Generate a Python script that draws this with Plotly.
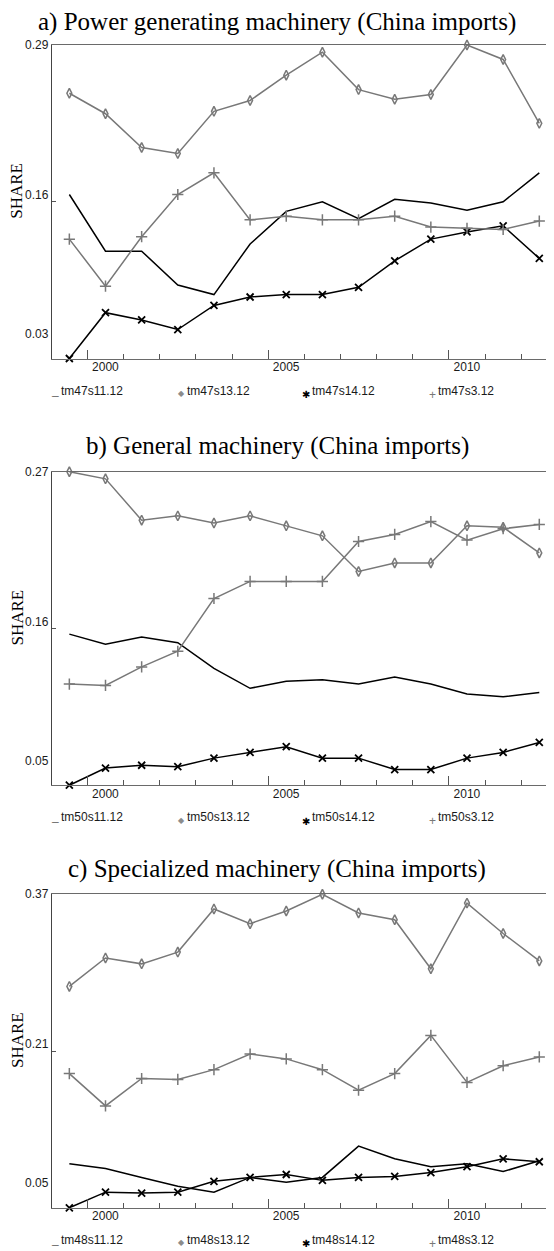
import plotly.graph_objects as go
from plotly.subplots import make_subplots

years = list(range(1999, 2013))

# a) Power generating machinery
tm47s11_12 = [0.166, 0.119, 0.119, 0.091, 0.083, 0.125, 0.152, 0.160, 0.146, 0.162, 0.159, 0.153, 0.160, 0.184]
tm47s13_12 = [0.250, 0.233, 0.205, 0.200, 0.235, 0.244, 0.265, 0.284, 0.253, 0.245, 0.249, 0.290, 0.278, 0.225]
tm47s14_12 = [0.030, 0.068, 0.062, 0.054, 0.074, 0.081, 0.083, 0.083, 0.089, 0.111, 0.129, 0.135, 0.140, 0.113]
tm47s3_12 = [0.129, 0.090, 0.131, 0.166, 0.184, 0.145, 0.148, 0.145, 0.145, 0.148, 0.139, 0.138, 0.137, 0.144]

# b) General machinery
tm50s11_12 = [0.156, 0.149, 0.154, 0.150, 0.132, 0.118, 0.123, 0.124, 0.121, 0.126, 0.121, 0.114, 0.112, 0.115]
tm50s13_12 = [0.270, 0.265, 0.236, 0.239, 0.234, 0.239, 0.232, 0.225, 0.200, 0.206, 0.206, 0.232, 0.231, 0.213]
tm50s14_12 = [0.050, 0.062, 0.064, 0.063, 0.069, 0.073, 0.077, 0.069, 0.069, 0.061, 0.061, 0.069, 0.073, 0.080]
tm50s3_12 = [0.121, 0.120, 0.133, 0.144, 0.181, 0.193, 0.193, 0.193, 0.221, 0.226, 0.235, 0.222, 0.230, 0.233]

# c) Specialized machinery
tm48s11_12 = [0.095, 0.090, 0.081, 0.072, 0.066, 0.081, 0.076, 0.081, 0.113, 0.100, 0.092, 0.095, 0.087, 0.098]
tm48s13_12 = [0.276, 0.305, 0.299, 0.311, 0.355, 0.340, 0.353, 0.370, 0.351, 0.344, 0.294, 0.361, 0.330, 0.302]
tm48s14_12 = [0.050, 0.066, 0.065, 0.066, 0.077, 0.081, 0.084, 0.078, 0.081, 0.082, 0.086, 0.092, 0.100, 0.097]
tm48s3_12 = [0.187, 0.154, 0.182, 0.181, 0.191, 0.207, 0.202, 0.191, 0.170, 0.187, 0.226, 0.178, 0.195, 0.204]

titles = [
    "a) Power generating machinery (China imports)",
    "b) General machinery (China imports)",
    "c) Specialized machinery (China imports)",
]
share_ticks = [[0.03, 0.16, 0.29], [0.05, 0.16, 0.27], [0.05, 0.21, 0.37]]
year_labels = [2000, 2005, 2010]

panels = [
    (["tm47s11.12", "tm47s13.12", "tm47s14.12", "tm47s3.12"], [tm47s11_12, tm47s13_12, tm47s14_12, tm47s3_12]),
    (["tm50s11.12", "tm50s13.12", "tm50s14.12", "tm50s3.12"], [tm50s11_12, tm50s13_12, tm50s14_12, tm50s3_12]),
    (["tm48s11.12", "tm48s13.12", "tm48s14.12", "tm48s3.12"], [tm48s11_12, tm48s13_12, tm48s14_12, tm48s3_12]),
]

# the page body has an 8px margin, so the figure is drawn 8px in from the
# top-left corner of the window; positions below are window pixels
WIN_W, WIN_H = 554, 1251
BODY = 8
W, H = WIN_W - BODY, WIN_H - BODY
GREY = "#787878"
plot_left = 52
panel_top = [45, 471.7, 894.3]
panel_h = 313.5
px_per_year = 36.15


def fx(px):
    return (px - BODY) / W


def fy(py):
    return 1 - (py - BODY) / H


# one style per series slot (s11, s13, s14, s3)
styles = [
    dict(mode="lines", line=dict(color="black", width=1.5)),
    dict(mode="lines+markers", line=dict(color=GREY, width=1.5),
         marker=dict(symbol="diamond-tall-open", size=7, color=GREY, line=dict(width=1.5))),
    dict(mode="lines+markers", line=dict(color="black", width=1.5),
         marker=dict(symbol="x-thin", size=7, color="black", line=dict(width=1.8, color="black"))),
    dict(mode="lines+markers", line=dict(color=GREY, width=1.5),
         marker=dict(symbol="cross-thin", size=8, color=GREY, line=dict(width=1.5, color=GREY))),
]
# legend glyph, its size, colour and downward shift (px)
legend_syms = [
    ("<b>_</b>", 12, "black", 0),
    ("◆", 8, "#8c8c8c", -3),
    ("✱", 10, "black", -4),
    ("+", 12, GREY, -4),
]
legend_x = [60, 186, 311, 437]

fig = make_subplots(rows=3, cols=1)

x0 = years[0] - 0.48
x1 = x0 + (WIN_W - plot_left) / px_per_year

annotations = []
for i, (names, series) in enumerate(panels):
    row = i + 1
    for name, vals, st in zip(names, series, styles):
        fig.add_trace(go.Scatter(x=years, y=vals, name=name, showlegend=False,
                                 cliponaxis=False, **st), row=row, col=1)

    top = panel_top[i]
    ydom = [fy(top + panel_h), fy(top)]
    ticks = share_ticks[i]
    fig.update_xaxes(
        row=row, col=1, domain=[fx(plot_left), 1], range=[x0, x1],
        showline=True, linecolor="#6a6a6a", linewidth=1, mirror=True,
        showgrid=False, zeroline=False,
        ticks="inside", ticklen=9, tickcolor="#555",
        tickvals=[y - 0.5 for y in year_labels], ticktext=[str(y) for y in year_labels],
        ticklabelshift=18, ticklabelstandoff=-3,
        minor=dict(ticks="inside", ticklen=5, tickcolor="#555",
                   tickvals=[y - 0.5 for y in years[1:]]),
        automargin=False,
    )
    fig.update_yaxes(
        row=row, col=1, domain=ydom, range=[min(ticks), max(ticks)],
        showline=True, linecolor="#444", linewidth=1,
        showgrid=False, zeroline=False,
        tickvals=[ticks[1]], ticks="inside", ticklen=4, tickcolor="#555",
        showticklabels=False, automargin=False,
    )

    yref = ("y" if row == 1 else f"y{row}") + " domain"
    # keep the first title inside the figure's top edge
    title_px = max(top - 25.5, BODY + 14)
    annotations.append(dict(
        text=titles[i], xref="paper", x=fx(WIN_W / 2), yref="paper", y=fy(title_px),
        xanchor="center", yanchor="middle", showarrow=False,
        font=dict(family="Liberation Serif", size=25, color="black")))
    annotations.append(dict(
        text="SHARE", xref="paper", x=fx(17), yref=yref, y=0.535, textangle=-90,
        xanchor="center", yanchor="middle", showarrow=False,
        font=dict(family="Liberation Serif", size=17, color="black")))
    # tick labels sit at these offsets (px) below the panel top in the reference
    for val, off in zip(sorted(ticks, reverse=True), [0, 150, 289]):
        annotations.append(dict(
            text=f"{val:.2f}", xref="paper", x=fx(50), yref=yref, y=1 - off / panel_h,
            xanchor="right", yanchor="middle", showarrow=False, borderpad=0,
            font=dict(size=12)))
    for name, (sym, size, col, shift), lx in zip(names, legend_syms, legend_x):
        annotations.append(dict(
            text=sym, xref="paper", x=fx(lx), yref=yref, y=-32 / panel_h, yshift=shift,
            xanchor="right", yanchor="middle", showarrow=False, borderpad=0,
            font=dict(size=size, color=col)))
        annotations.append(dict(
            text=name, xref="paper", x=fx(lx), yref=yref, y=-32 / panel_h,
            xanchor="left", yanchor="middle", showarrow=False, borderpad=0,
            font=dict(size=12)))

fig.update_layout(
    template="none",
    width=W, height=H,
    margin=dict(l=0, r=0, t=0, b=0),
    paper_bgcolor="white", plot_bgcolor="white",
    font=dict(family="Liberation Sans", size=12, color="#1a1a1a"),
    annotations=annotations,
    showlegend=False,
)

fig.write_html("out.html")
